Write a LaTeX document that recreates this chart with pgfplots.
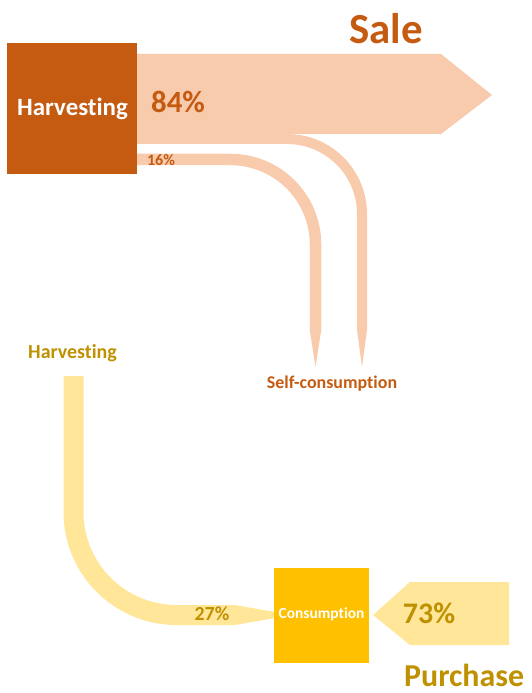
\documentclass[border=0pt]{standalone}
\usepackage{fontspec}
\setmainfont{Carlito}[Ligatures=NoCommon]
\usepackage{pgfplots}
\pgfplotsset{compat=1.18}

\definecolor{darkorange}{HTML}{C55A11}
\definecolor{peach}{HTML}{F8CBAD}
\definecolor{gold}{HTML}{FFC000}
\definecolor{lightgold}{HTML}{FFE699}
\definecolor{textgold}{HTML}{BF9000}

\newcommand{\fs}[1]{\fontsize{#1}{#1}\selectfont\bfseries}

\begin{document}
\begin{tikzpicture}
\path[use as bounding box] (0,0) rectangle (532bp,693bp);
\begin{axis}[
    width=532bp, height=693bp,
    scale only axis,
    hide axis,
    xmin=0, xmax=532,
    ymin=0, ymax=693,
    y dir=reverse,
    clip=false
]

% --- top flow: harvesting -> sale / self-consumption
% sale arrow
\addplot[fill=peach, draw=none] coordinates {
    (137,54) (441,54) (492,95) (441,134) (137,134)
} -- cycle;

% self-consumption band (outer)
\addplot[draw=peach, line width=10bp, rounded corners=75bp] coordinates {
    (137,139) (362,139) (362,330)
};
\addplot[fill=peach, draw=none] coordinates {
    (357,330) (367,330) (362,367)
} -- cycle;

% self-consumption band (16%)
\addplot[draw=peach, line width=11.5bp, rounded corners=85bp] coordinates {
    (137,159.5) (315.5,159.5) (315.5,330)
};
\addplot[fill=peach, draw=none] coordinates {
    (309.75,330) (321.25,330) (315.5,367)
} -- cycle;

% harvesting box
\addplot[fill=darkorange, draw=none] coordinates {
    (7,43) (137,43) (137,174) (7,174)
} -- cycle;

% --- bottom flow: harvesting / purchase -> consumption
\addplot[draw=lightgold, line width=20bp, rounded corners=103bp] coordinates {
    (73.5,376) (73.5,615) (235,615)
};
\addplot[fill=lightgold, draw=none] coordinates {
    (235,605) (275,612) (275,618) (235,625)
} -- cycle;

% purchase arrow
\addplot[fill=lightgold, draw=none] coordinates {
    (373,615) (410,582) (509,582) (509,645) (410,645)
} -- cycle;

% consumption box
\addplot[fill=gold, draw=none] coordinates {
    (274,568) (369,568) (369,663) (274,663)
} -- cycle;

% --- labels
\node[text=darkorange, font=\fs{43}] at (axis cs:386,29) {Sale};
\node[text=white, font=\fs{25}] at (axis cs:72.5,109) {Harvesting};
\node[text=darkorange, font=\fs{31}] at (axis cs:178,102) {84\%};
\node[text=darkorange, font=\fs{16}] at (axis cs:161,160) {16\%};
\node[text=darkorange, font=\fs{18}] at (axis cs:332,384) {Self-consumption};

\node[text=textgold, font=\fs{20}] at (axis cs:72.5,353) {Harvesting};
\node[text=textgold, font=\fs{20}] at (axis cs:212,614) {27\%};
\node[text=white, font=\fs{15.5}] at (axis cs:321.5,614) {Consumption};
\node[text=textgold, font=\fs{30}] at (axis cs:429,613) {73\%};
\node[text=textgold, font=\fs{32}, anchor=west, inner sep=0pt] at (axis cs:404,675) {Purchase};

\end{axis}
\end{tikzpicture}
\end{document}
